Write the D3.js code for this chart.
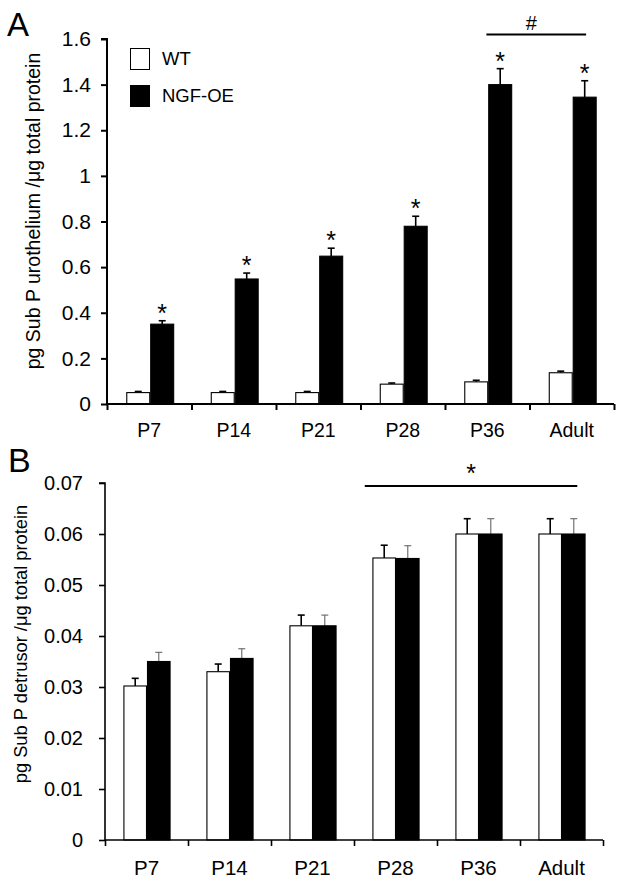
<!DOCTYPE html>
<html>
<head>
<meta charset="utf-8">
<script src="https://cdn.jsdelivr.net/npm/d3@7/dist/d3.min.js"></script>
<style>
  html, body { margin: 0; padding: 0; background: #fff; }
  svg { display: block; font-family: "Liberation Sans", Arial, sans-serif; }
</style>
</head>
<body>
<svg id="chart" width="624" height="884"></svg>
<script>
// ---------- data ----------
const categories = ["P7", "P14", "P21", "P28", "P36", "Adult"];
const seriesNames = ["WT", "NGF-OE"];

// Panel A: urothelium
const urothWT      = [0.050, 0.050, 0.050, 0.087, 0.097, 0.137];
const urothWTErr   = [0.005, 0.005, 0.005, 0.005, 0.007, 0.007];
const urothNGF     = [0.350, 0.548, 0.648, 0.779, 1.400, 1.345];
const urothNGFErr  = [0.015, 0.026, 0.035, 0.044, 0.070, 0.072];
const urothTicks   = [0, 0.2, 0.4, 0.6, 0.8, 1, 1.2, 1.4, 1.6];
const urothStars   = [true, true, true, true, true, true];

// Panel B: detrusor
const detrWT       = [0.0302, 0.0330, 0.0420, 0.0553, 0.0600, 0.0600];
const detrWTErr    = [0.0015, 0.0015, 0.0021, 0.0025, 0.0030, 0.0030];
const detrNGF      = [0.0350, 0.0356, 0.0420, 0.0552, 0.0600, 0.0600];
const detrNGFErr   = [0.0018, 0.0019, 0.0021, 0.0025, 0.0030, 0.0030];
const detrTicks    = [0, 0.01, 0.02, 0.03, 0.04, 0.05, 0.06, 0.07];

const svg = d3.select("#chart");

function panel(opts) {
  const g = svg.append("g");
  const x = d3.scaleBand().domain(categories).range([opts.left, opts.right]).padding(0);
  const bw = x.bandwidth();
  const x1 = d3.scaleBand().domain(seriesNames)
      .range([bw * opts.groupStart, bw * opts.groupEnd]).padding(0);
  const y = d3.scaleLinear().domain([0, opts.max]).range([opts.bottom, opts.top]);

  const series = [
    {name: "WT", vals: opts.wt, errs: opts.wtErr, fill: "#fff", errColor: "#000", errW: opts.errW},
    {name: "NGF-OE", vals: opts.ngf, errs: opts.ngfErr, fill: "#000", errColor: opts.ngfErrColor, errW: opts.ngfErrW}
  ];
  series.forEach(s => {
    const rows = categories.map((c, i) => ({c, v: s.vals[i], e: s.errs[i]}));
    const eg = g.append("g");
    rows.forEach(d => {
      const cx = x(d.c) + x1(s.name) + x1.bandwidth() / 2;
      eg.append("line").attr("x1", cx).attr("x2", cx)
        .attr("y1", y(d.v)).attr("y2", y(d.v + d.e))
        .attr("stroke", s.errColor).attr("stroke-width", s.errW);
      eg.append("line").attr("x1", cx - 3.5).attr("x2", cx + 3.5)
        .attr("y1", y(d.v + d.e)).attr("y2", y(d.v + d.e))
        .attr("stroke", s.errColor).attr("stroke-width", s.errW);
    });
    g.append("g").selectAll("rect").data(rows).join("rect")
      .attr("x", d => x(d.c) + x1(s.name) + 0.5)
      .attr("y", d => y(d.v))
      .attr("width", x1.bandwidth() - 1)
      .attr("height", d => y(0) - y(d.v))
      .attr("fill", s.fill)
      .attr("stroke", "#000")
      .attr("stroke-width", 1.1);
  });

  // y axis
  const yAxis = d3.axisLeft(y).tickValues(opts.ticks).tickSize(opts.tickLen)
      .tickPadding(opts.tickPad).tickFormat(opts.tickFmt);
  const ya = g.append("g").attr("transform", `translate(${opts.left},0)`).call(yAxis);
  ya.select(".domain").attr("stroke-width", opts.axisW).attr("d", `M-${opts.tickLen},${opts.top}H0V${opts.bottom}`);
  ya.selectAll(".tick line").attr("stroke-width", opts.axisW);
  ya.selectAll(".tick text").attr("font-size", opts.tickFont)
    .attr("font-family", "Liberation Sans, Arial, sans-serif").attr("fill", "#000");

  // x axis: boundary ticks
  const xi = d3.scaleLinear().domain([0, categories.length]).range([opts.left, opts.right]);
  const xa = g.append("g").attr("transform", `translate(0,${opts.bottom})`)
    .call(d3.axisBottom(xi).tickValues(d3.range(categories.length + 1)).tickSize(opts.xTickLen).tickFormat(""));
  xa.select(".domain").attr("stroke-width", opts.axisW).attr("d", `M${opts.left},0H${opts.right}`);
  xa.selectAll(".tick line").attr("stroke-width", opts.axisW);

  // category labels
  g.append("g").selectAll("text").data(categories).join("text")
    .attr("x", d => x(d) + bw / 2)
    .attr("y", opts.catBaseline)
    .attr("text-anchor", "middle")
    .attr("font-size", opts.catFont)
    .text(d => d);

  // y label
  g.append("text")
    .attr("transform", `translate(${opts.ylabelX},${opts.ylabelY}) rotate(-90)`)
    .attr("text-anchor", "middle")
    .attr("font-size", opts.ylabelFont)
    .text(opts.ylabel);

  // panel letter
  g.append("text").attr("x", opts.letterX).attr("y", opts.letterY)
    .attr("font-size", opts.letterFont).text(opts.letter);

  return {g, x, x1, y, bw};
}

// ---------- Panel A ----------
const A = panel({
  left: 107, right: 614, top: 39, bottom: 404, max: 1.6,
  groupStart: 0.228, groupEnd: 0.795,
  wt: urothWT, wtErr: urothWTErr, ngf: urothNGF, ngfErr: urothNGFErr,
  errW: 1.6, ngfErrColor: "#000", ngfErrW: 1.6,
  ticks: urothTicks, tickFmt: d3.format("~g"), tickLen: 6, tickPad: 10, tickFont: 21,
  axisW: 2, xTickLen: 6,
  catBaseline: 437, catFont: 19.5,
  ylabel: "pg Sub P urothelium /\u03bcg total protein", ylabelX: 40, ylabelY: 211, ylabelFont: 19.5,
  letter: "A", letterX: 7, letterY: 36, letterFont: 33
});

A.g.append("g").selectAll("text").data(categories.filter((c, i) => urothStars[i])).join("text")
  .attr("x", c => A.x(c) + A.x1("NGF-OE") + A.x1.bandwidth() / 2)
  .attr("y", c => { const i = categories.indexOf(c); return A.y(urothNGF[i] + urothNGFErr[i]) + 1; })
  .attr("text-anchor", "middle").attr("font-size", 25).text("*");

const bracketA = {from: "P36", to: "Adult", fromFrac: 0.49, toFrac: 0.67, value: 1.62, label: "#"};
{
  const x1p = A.x(bracketA.from) + A.bw * bracketA.fromFrac;
  const x2p = A.x(bracketA.to) + A.bw * bracketA.toFrac;
  const yy = A.y(bracketA.value);
  A.g.append("line").attr("x1", x1p).attr("x2", x2p).attr("y1", yy).attr("y2", yy)
    .attr("stroke", "#000").attr("stroke-width", 2);
  A.g.append("text").attr("x", (x1p + x2p) / 2 - 5).attr("y", yy - 4)
    .attr("text-anchor", "middle").attr("font-size", 20).text(bracketA.label);
}

// legend
const legendItems = [{name: "WT", fill: "#fff"}, {name: "NGF-OE", fill: "#000"}];
const lg = svg.append("g");
legendItems.forEach((d, i) => {
  lg.append("rect").attr("x", 130.5).attr("y", 48.5 + i * 37).attr("width", 19).attr("height", 21)
    .attr("fill", d.fill).attr("stroke", "#000").attr("stroke-width", 1);
  lg.append("text").attr("x", 162).attr("y", 65 + i * 37).attr("font-size", 18.5).text(d.name);
});

// ---------- Panel B ----------
const B = panel({
  left: 105, right: 603, top: 483, bottom: 840, max: 0.07,
  groupStart: 0.222, groupEnd: 0.79,
  wt: detrWT, wtErr: detrWTErr, ngf: detrNGF, ngfErr: detrNGFErr,
  errW: 1.6, ngfErrColor: "#666", ngfErrW: 1.1,
  ticks: detrTicks, tickFmt: d => d === 0 ? "0" : d3.format(".2f")(d), tickLen: 6, tickPad: 16, tickFont: 20,
  axisW: 1.6, xTickLen: 6,
  catBaseline: 875, catFont: 20.5,
  ylabel: "pg Sub P detrusor /\u03bcg total protein", ylabelX: 27, ylabelY: 644, ylabelFont: 18.3,
  letter: "B", letterX: 8, letterY: 472, letterFont: 34
});

const bracketB = {from: "P28", to: "Adult", fromFrac: 0.13, toFrac: 0.69, value: 0.0694, label: "*"};
{
  const x1p = B.x(bracketB.from) + B.bw * bracketB.fromFrac;
  const x2p = B.x(bracketB.to) + B.bw * bracketB.toFrac;
  const yy = B.y(bracketB.value);
  B.g.append("line").attr("x1", x1p).attr("x2", x2p).attr("y1", yy).attr("y2", yy)
    .attr("stroke", "#000").attr("stroke-width", 2);
  B.g.append("text").attr("x", (x1p + x2p) / 2).attr("y", yy - 4)
    .attr("text-anchor", "middle").attr("font-size", 25).text(bracketB.label);
}
</script>
</body>
</html>
